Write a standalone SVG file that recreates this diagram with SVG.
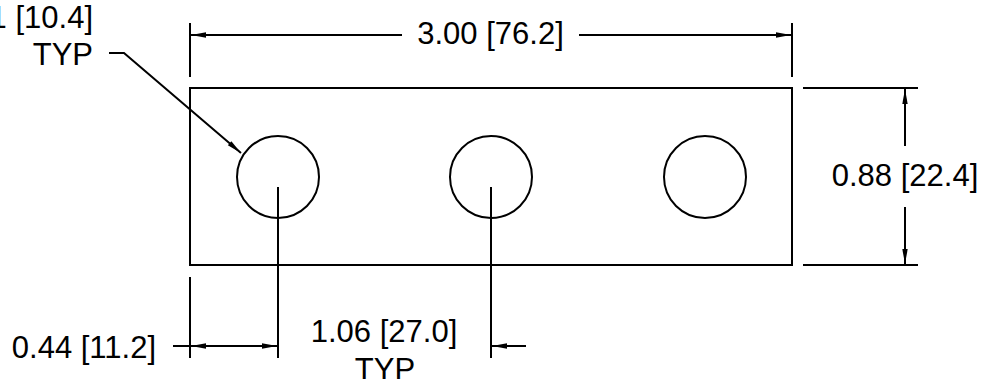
<svg xmlns="http://www.w3.org/2000/svg" width="995" height="379" viewBox="0 0 995 379">
<style>
.l{fill:none;stroke:#000;stroke-width:2}
.t{font-family:"Liberation Sans",Arial,sans-serif;font-size:31px;fill:#000}
.e{text-anchor:end}.m{text-anchor:middle}
</style>
<defs>
<marker id="a" markerUnits="userSpaceOnUse" markerWidth="16" markerHeight="8" refX="15" refY="4" orient="auto-start-reverse" overflow="visible"><path d="M0 1.3L15 4L0 6.7Z" fill="#000"/></marker>
</defs>
<rect width="995" height="379" fill="#fff"/>
<g id="plate"><rect class="l" x="190" y="88" width="602" height="177"/></g>
<g id="hole1"><circle class="l" cx="278" cy="177" r="41"/></g>
<g id="hole2"><circle class="l" cx="491" cy="177" r="41"/></g>
<g id="hole3"><circle class="l" cx="705" cy="177" r="41"/></g>
<g id="connectors">
<path class="l" d="M190 23V77M792 23V77"/>
<path class="l" d="M402 35H191" marker-end="url(#a)"/>
<path class="l" d="M579 35H791" marker-end="url(#a)"/>
<path class="l" d="M109 53H124L241 153" marker-end="url(#a)"/>
<path class="l" d="M803 88H918M803 265H918"/>
<path class="l" d="M905 146V89" marker-end="url(#a)"/>
<path class="l" d="M905 207V264" marker-end="url(#a)"/>
<path class="l" d="M190 277V358M278 187V358M491 187V358"/>
<path class="l" d="M234 346H191" marker-end="url(#a)"/>
<path class="l" d="M234 346H277" marker-end="url(#a)"/>
<path class="l" d="M173 346H190"/>
<path class="l" d="M526 346H492" marker-end="url(#a)"/>
</g>
<g id="labels">
<text class="t m" x="490.500" y="44">3.00 [76.2]</text>
<text class="t e" x="93" y="28">1 [10.4]</text>
<text class="t e" x="93" y="65">TYP</text>
<text class="t m" x="905" y="186">0.88 [22.4]</text>
<text class="t e" x="156" y="358">0.44 [11.2]</text>
<text class="t m" x="384" y="342">1.06 [27.0]</text>
<text class="t m" x="385" y="380">TYP</text>
</g>
</svg>
